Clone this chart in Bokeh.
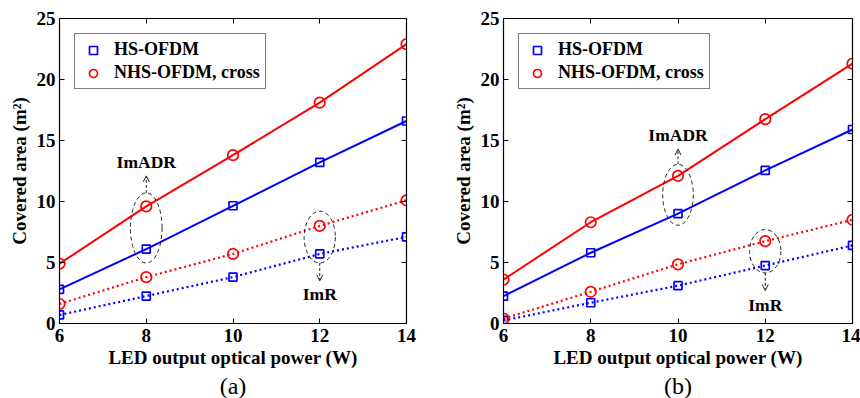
from bokeh.plotting import figure
from bokeh.layouts import row
from bokeh.models import (Range1d, LinearAxis, FixedTicker, CustomJSTickFormatter,
                          Arrow, OpenHead, Title, Legend, LegendItem)
from bokeh.core.properties import value
from bokeh.embed import file_html
from bokeh.resources import INLINE

power = [6, 8, 10, 12, 14]

# Panel (a)
a_hs_imadr = [2.8, 6.1, 9.65, 13.2, 16.6]
a_nhs_imadr = [4.9, 9.6, 13.8, 18.1, 22.9]
a_hs_imr = [0.7, 2.25, 3.8, 5.7, 7.1]
a_nhs_imr = [1.6, 3.8, 5.7, 8.0, 10.1]

# Panel (b)
b_hs_imadr = [2.25, 5.8, 9.0, 12.55, 15.9]
b_nhs_imadr = [3.6, 8.3, 12.1, 16.75, 21.3]
b_hs_imr = [0.25, 1.7, 3.1, 4.75, 6.4]
b_nhs_imr = [0.4, 2.6, 4.85, 6.75, 8.5]

x_ticks = [6, 8, 10, 12, 14]
y_ticks = [0, 5, 10, 15, 20, 25]

series_names = ["HS-OFDM", "NHS-OFDM, cross"]
caption_a = "(a)"
caption_b = "(b)"
x_label = "LED output optical power (W)"
y_label = "Covered area (m\u00b2)"

# annotations: ellipse (x, y_center, width, height), arrow (x, y_start, y_end), label (x, y, text)
a_ann = {
    "ell": [(8, 7.83, 0.73, 5.75), (12, 7.08, 0.72, 4.25)],
    "arr": [(8, 10.7, 12.1), (12, 4.96, 3.5)],
    "lab": [(8, 13.25, "ImADR"), (12, 2.4, "ImR")],
}
b_ann = {
    "ell": [(10, 10.55, 0.7, 5.0), (12, 5.92, 0.72, 3.55)],
    "arr": [(10, 13.05, 14.3), (12, 4.15, 2.7)],
    "lab": [(10, 15.45, "ImADR"), (12, 1.5, "ImR")],
}

BLUE = "#0000ff"
RED = "#ff0000"
SERIF = "Liberation Serif"


def make_panel(hs1, nhs1, hs2, nhs2, ann, caption, left, fw, right):
    p = figure(width=left + fw + right, height=398,
               x_range=Range1d(6, 14), y_range=Range1d(0, 25),
               output_backend="svg", toolbar_location=None,
               min_border_left=left, min_border_right=right,
               min_border_top=18, min_border_bottom=0)
    p.xgrid.visible = False
    p.ygrid.visible = False
    p.outline_line_color = "black"
    p.outline_line_width = 1.2
    p.background_fill_color = "white"
    p.border_fill_color = "white"

    for ax in p.xaxis:
        ax.ticker = FixedTicker(ticks=x_ticks)
    for ax in p.yaxis:
        ax.ticker = FixedTicker(ticks=y_ticks)

    for ax in list(p.xaxis) + list(p.yaxis):
        ax.major_tick_in = 5
        ax.major_tick_out = 0
        ax.minor_tick_line_color = None
        ax.axis_line_color = "black"
        ax.major_label_text_font = SERIF
        ax.major_label_text_font_style = "bold"
        ax.major_label_text_font_size = "19px"
        ax.major_label_text_color = "black"
        ax.axis_label_text_font = SERIF
        ax.axis_label_text_font_style = "bold"
        ax.axis_label_text_font_size = "19px"
        ax.axis_label_text_color = "black"
    p.xaxis.axis_label = x_label
    p.yaxis.axis_label = y_label
    p.xaxis.major_label_standoff = 5
    p.xaxis.axis_label_standoff = 2
    p.yaxis.major_label_standoff = 4
    p.yaxis.axis_label_standoff = 4

    blank = CustomJSTickFormatter(code="return ''")
    top = LinearAxis(ticker=FixedTicker(ticks=x_ticks), formatter=blank,
                     major_tick_in=5, major_tick_out=0, minor_tick_line_color=None,
                     major_label_text_font_size="1px", major_label_standoff=0)
    rgt = LinearAxis(ticker=FixedTicker(ticks=y_ticks), formatter=blank,
                     major_tick_in=5, major_tick_out=0, minor_tick_line_color=None,
                     major_label_text_font_size="1px", major_label_standoff=0)
    p.add_layout(top, "above")
    p.add_layout(rgt, "right")

    # lines
    p.line(power, nhs1, line_color=RED, line_width=2)
    p.line(power, hs1, line_color=BLUE, line_width=2)
    p.line(power, nhs2, line_color=RED, line_width=2.2, line_dash="2 3")
    p.line(power, hs2, line_color=BLUE, line_width=2.2, line_dash="2 3")

    r_hs = None
    r_nhs = None
    for ys in (hs1, hs2):
        r_hs = p.scatter(power, ys, marker="square", size=8, fill_color="white",
                         fill_alpha=0.0, line_color=BLUE, line_width=1.7)
    for ys in (nhs1, nhs2):
        r_nhs = p.scatter(power, ys, marker="circle", size=10.5, fill_color="white",
                          fill_alpha=0.0, line_color=RED, line_width=1.7)

    # annotations
    p.ellipse([e[0] for e in ann["ell"]], [e[1] for e in ann["ell"]],
              width=[e[2] for e in ann["ell"]], height=[e[3] for e in ann["ell"]],
              fill_color=None, line_color="#222222", line_width=1, line_dash="4 3")
    for (ax_, y0, y1) in ann["arr"]:
        p.add_layout(Arrow(x_start=ax_, y_start=y0, x_end=ax_, y_end=y1,
                           line_color="#222222", line_width=1, line_dash="3 2",
                           end=OpenHead(size=6, line_width=1, line_color="#222222")))
    p.text([l[0] for l in ann["lab"]], [l[1] for l in ann["lab"]],
           text=[l[2] for l in ann["lab"]], text_align="center",
           text_baseline="middle", text_font=value(SERIF), text_font_style="bold",
           text_font_size="17.5px", text_color="black")

    legend = Legend(items=[LegendItem(label=series_names[0], renderers=[r_hs]),
                           LegendItem(label=series_names[1], renderers=[r_nhs])],
                    location="top_left", margin=15, padding=5, spacing=2,
                    label_text_font=SERIF, label_text_font_style="bold",
                    label_text_font_size="18px", label_text_color="black",
                    label_height=20, glyph_width=26,
                    glyph_height=20, label_standoff=8,
                    border_line_color="black", border_line_width=1,
                    background_fill_alpha=1.0)
    p.add_layout(legend)

    cap = Title(text=caption, align="center", text_font=SERIF,
                text_font_style="normal", text_font_size="24px",
                text_color="black", standoff=0)
    p.add_layout(cap, "below")
    return p


pa = make_panel(a_hs_imadr, a_nhs_imadr, a_hs_imr, a_nhs_imr, a_ann, caption_a, 59, 347, 24)
pb = make_panel(b_hs_imadr, b_nhs_imadr, b_hs_imr, b_nhs_imr, b_ann, caption_b, 73, 349, 8)

layout = row(pa, pb, spacing=0)
open("out.html", "w").write(file_html(layout, INLINE))
